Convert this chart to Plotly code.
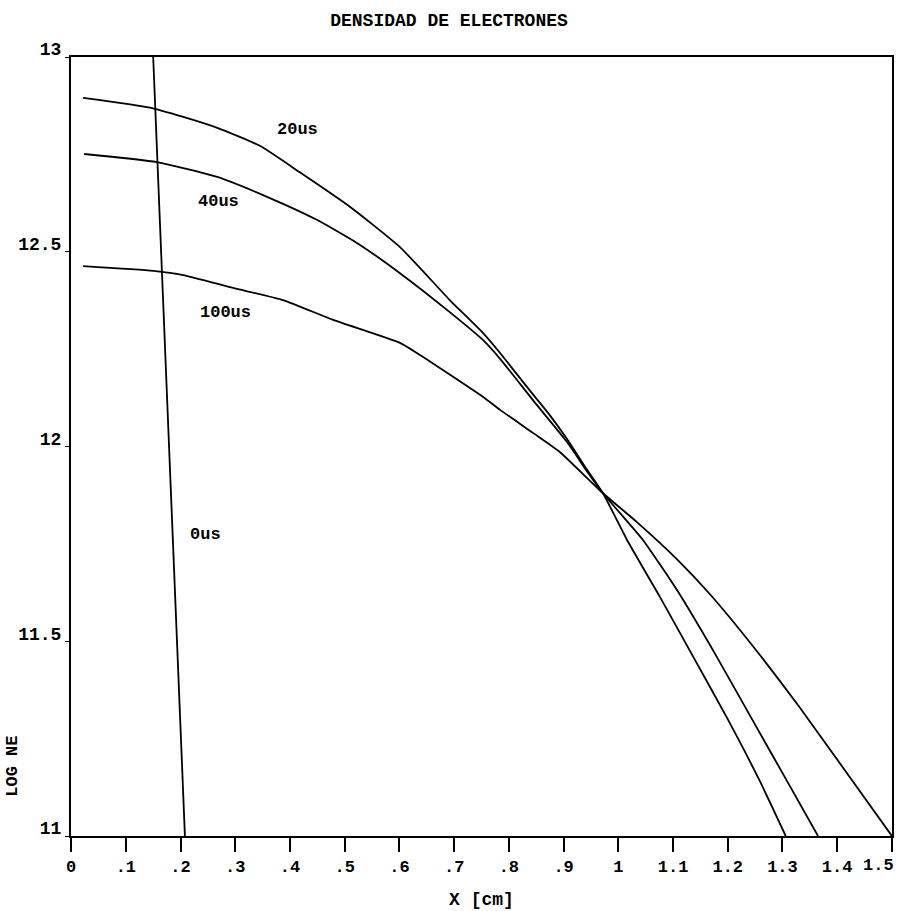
import plotly.graph_objects as go

# 0 us
x0 = [0.150, 0.208]
y0 = [13.0, 11.0]

# 20 us
x20 = [0.022, 0.144, 0.205, 0.267, 0.345, 0.418, 0.510, 0.601, 0.692, 0.753, 0.784, 0.833,
       0.875, 0.906, 0.943, 0.972, 1.016, 1.076, 1.137, 1.200, 1.259, 1.306]
y20 = [12.895, 12.870, 12.846, 12.818, 12.772, 12.704, 12.615, 12.512, 12.376, 12.291, 12.240, 12.153,
       12.080, 12.020, 11.940, 11.880, 11.760, 11.614, 11.460, 11.300, 11.140, 11.000]

# 40 us
x40 = [0.024, 0.157, 0.267, 0.358, 0.449, 0.523, 0.601, 0.692, 0.753, 0.784, 0.844,
       0.906, 0.943, 0.972, 1.045, 1.107, 1.180, 1.250, 1.310, 1.365]
y40 = [12.751, 12.730, 12.692, 12.641, 12.582, 12.522, 12.445, 12.345, 12.273, 12.225, 12.119,
       12.012, 11.936, 11.880, 11.760, 11.632, 11.460, 11.286, 11.137, 11.000]

# 100 us
x100 = [0.022, 0.150, 0.205, 0.296, 0.387, 0.479, 0.601, 0.632, 0.753, 0.784, 0.844, 0.893,
        0.972, 1.034, 1.107, 1.168, 1.253, 1.330, 1.415, 1.500]
y100 = [12.463, 12.451, 12.440, 12.407, 12.376, 12.325, 12.266, 12.240, 12.127, 12.094, 12.035, 11.986,
        11.880, 11.806, 11.711, 11.620, 11.475, 11.333, 11.167, 11.000]

curve_labels = ["20us", "40us", "100us", "0us"]
label_x = [0.413, 0.270, 0.282, 0.245]
label_y = [12.813, 12.628, 12.345, 11.775]

xtick_vals = [0, 0.1, 0.2, 0.3, 0.4, 0.5, 0.6, 0.7, 0.8, 0.9, 1.0, 1.1, 1.2, 1.3, 1.4, 1.5]
xtick_text = ["0", ".1", ".2", ".3", ".4", ".5", ".6", ".7", ".8", ".9", "1", "1.1", "1.2", "1.3", "1.4", "1.5"]
ytick_vals = [11, 11.5, 12, 12.5, 13]
ytick_text = ["11", "11.5", "12", "12.5", "13"]

FONT = "Liberation Mono, DejaVu Sans Mono, monospace"

fig = go.Figure()
for xs, ys in [(x0, y0), (x20, y20), (x40, y40), (x100, y100)]:
    fig.add_trace(go.Scatter(x=xs, y=ys, mode="lines",
                             line=dict(color="black", width=1.8, shape="spline", smoothing=0.5),
                             showlegend=False))

for t, lx, ly in zip(curve_labels, label_x, label_y):
    fig.add_annotation(x=lx, y=ly, text="<b>" + t + "</b>", showarrow=False,
                       font=dict(family=FONT, size=17, color="black"))

fig.add_annotation(xref="paper", yref="paper", x=-0.0706, y=0.089, xanchor="center", yanchor="middle",
                   text="<b>LOG NE</b>", textangle=-90, showarrow=False,
                   font=dict(family=FONT, size=17, color="black"))

# last x tick label sits flush against the right edge, as in the original printout
axis_ticktext = ["<b>" + s + "</b>" for s in xtick_text[:-1]] + [""]
fig.add_annotation(x=xtick_vals[-1], xref="x", yref="paper", y=-0.0385, xanchor="right",
                   yanchor="middle", xshift=4, text="<b>" + xtick_text[-1] + "</b>", showarrow=False,
                   font=dict(family=FONT, size=17, color="black"))

fig.update_layout(
    width=898, height=911, autosize=False,
    margin=dict(l=71, r=6, t=57, b=75),
    paper_bgcolor="white", plot_bgcolor="white",
    title=dict(text="<b>DENSIDAD DE ELECTRONES</b>", x=0.5, xanchor="center", y=0.978,
               yanchor="middle", font=dict(family=FONT, size=18, color="black")),
    font=dict(family=FONT, size=17, color="black"),
    xaxis=dict(range=[-0.0002, 1.5002], tickvals=xtick_vals, ticktext=axis_ticktext,
               ticks="outside", ticklen=14, tickwidth=2, tickcolor="black",
               showline=True, linecolor="black", linewidth=2, mirror=True, showgrid=False,
               zeroline=False, automargin=False, ticklabeloverflow="allow",
               tickfont=dict(family=FONT, size=17),
               title=dict(text="<b>X [cm]</b>", standoff=16, font=dict(family=FONT, size=18))),
    yaxis=dict(range=[11, 13], tickvals=ytick_vals, ticktext=["<b>" + s + "</b>" for s in ytick_text],
               ticks="outside", ticklen=4, tickwidth=1, tickcolor="black",
               showline=True, linecolor="black", linewidth=2, mirror=True, showgrid=False,
               zeroline=False, automargin=False, ticklabelshift=-8, ticklabelstandoff=0,
               ticklabeloverflow="allow", tickfont=dict(family=FONT, size=18)),
)

fig.write_html("out.html", config={"responsive": False, "displayModeBar": False},
               default_width="898px", default_height="911px",
               post_script="document.body.style.margin='0px';document.body.style.overflow='hidden';")
